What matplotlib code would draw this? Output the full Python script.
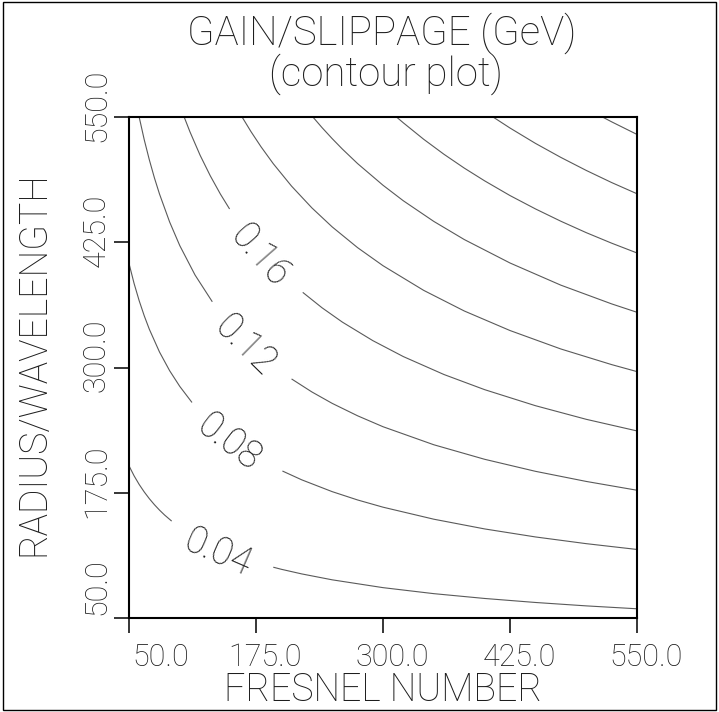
"""Gain/slippage (GeV) contour chart: Fresnel number vs radius/wavelength."""
import matplotlib
matplotlib.use("Agg")
import matplotlib.pyplot as plt
import matplotlib.transforms as mtransforms
from matplotlib import font_manager
from matplotlib.patches import Rectangle

# ---------------------------------------------------------------- data
x_ticks = [50, 175, 300, 425, 550]
y_ticks = [50, 175, 300, 425, 550]
x_tick_labels = ["50.0", "175.0", "300.0", "425.0", "550.0"]
y_tick_labels = ["50.0", "175.0", "300.0", "425.0", "550.0"]

levels = [0.04, 0.08, 0.12, 0.16, 0.20, 0.24, 0.28, 0.32, 0.36]
label_texts = ["0.04", "0.08", "0.12", "0.16"]

# traced contour lines: n_* = Fresnel number, r_* = radius/wavelength
# labelled levels come in two pieces (a / b) either side of the label
n_004a = [50, 55, 60, 65, 70, 75, 80, 85, 92]
r_004a = [201.9, 191.9, 183.3, 175.8, 169.1, 163.1, 157.7, 152.8, 146.7]
n_004b = [192, 200, 220, 250, 300, 350, 400, 450, 500, 550]
r_004b = [100.7, 98.6, 94.0, 88.1, 80.3, 74.3, 69.5, 65.5, 62.1, 59.2]

n_008a = [50, 55, 60, 65, 70, 80, 90, 100, 112]
r_008a = [403.8, 383.9, 366.7, 351.6, 338.2, 315.5, 296.8, 281.1, 265.1]
n_008b = [201, 220, 250, 275, 300, 350, 400, 450, 500, 550]
r_008b = [196.7, 187.9, 176.1, 167.8, 160.6, 148.6, 138.9, 130.9, 124.2, 118.4]

n_012a = [60, 65, 70, 75, 80, 90, 100, 115, 132]
r_012a = [550.0, 527.3, 507.3, 489.3, 473.2, 445.2, 421.6, 392.3, 365.6]
n_012b = [210, 230, 250, 275, 300, 350, 400, 450, 500, 550]
r_012b = [288.6, 275.6, 264.2, 251.8, 240.9, 222.9, 208.4, 196.4, 186.3, 177.5]

n_016a = [104.3, 110, 120, 130, 140, 149]
r_016a = [550.0, 535.2, 511.8, 491.3, 473.0, 458.2]
n_016b = [221, 240, 260, 290, 320, 360, 400, 450, 500, 550]
r_016b = [375.0, 359.6, 345.3, 326.8, 310.9, 293.0, 277.9, 261.9, 248.3, 236.7]

n_020 = [161.3, 170, 180, 192, 210, 230, 250, 275, 300, 340, 380, 425, 475, 525, 550]
r_020 = [550.0, 535.5, 520.2, 503.4, 481.0, 459.3, 440.3, 419.6, 401.6, 377.0,
         356.4, 336.9, 318.5, 302.9, 295.9]

n_024 = [231.0, 240, 250, 260, 275, 300, 320, 350, 380, 425, 475, 525, 550]
r_024 = [550.0, 539.4, 528.4, 518.0, 503.5, 481.9, 466.4, 445.8, 427.7, 404.3,
         382.2, 363.5, 355.1]

n_028 = [313.3, 320, 340, 360, 380, 400, 425, 450, 475, 500, 525, 550]
r_028 = [550.0, 544.2, 527.8, 512.8, 499.0, 486.3, 471.6, 458.3, 446.0, 434.6,
         424.1, 414.3]

n_032 = [408.3, 425, 450, 475, 500, 525, 550]
r_032 = [550.0, 539.0, 523.7, 509.7, 496.7, 484.6, 473.4]

n_036 = [516.0, 525, 550]
r_036 = [550.0, 545.2, 532.6]

contour_pieces = [
    (n_004a, r_004a), (n_004b, r_004b),
    (n_008a, r_008a), (n_008b, r_008b),
    (n_012a, r_012a), (n_012b, r_012b),
    (n_016a, r_016a), (n_016b, r_016b),
    (n_020, r_020), (n_024, r_024), (n_028, r_028),
    (n_032, r_032), (n_036, r_036),
]

# ---------------------------------------------------------------- layout
W, H, DPI = 719, 712, 100
AX_L, AX_R, AX_T, AX_B = 129, 637, 117, 618          # axes box, pixels

# inline label anchors (data coords) and angles along the line
label_n = [139.6, 150.4, 167.0, 182.0]
label_r = [118.4, 228.0, 324.2, 413.8]
label_rot = [-23.5, -37.5, -44.5, -48.7]


def fx(px):
    return px / W


def fy(py):
    return 1 - py / H


def pick_family():
    # want a hairline face, the original uses a 1px stroke font
    faces = font_manager.fontManager.ttflist
    for fam in ("Roboto", "Lato", "Open Sans", "Inter"):
        if any(f.name == fam and isinstance(f.weight, int) and f.weight <= 300
               for f in faces):
            return fam
    return "DejaVu Sans"


TXT = dict(family=pick_family(), fontweight=100, color="#1e1e1e")
LINE = "#5a5a5a"

fig = plt.figure(figsize=(W / DPI, H / DPI), dpi=DPI)
ax = fig.add_axes([fx(AX_L), fy(AX_B), (AX_R - AX_L) / W, (AX_B - AX_T) / H])

for n, r in contour_pieces:
    ax.plot(n, r, color=LINE, lw=0.8, solid_capstyle="butt")

for s, n, r, a in zip(label_texts, label_n, label_r, label_rot):
    ax.text(n, r, s, rotation=a, rotation_mode="anchor", ha="center",
            va="center_baseline", fontsize=27, **TXT)

ax.set_xlim(50, 550)
ax.set_ylim(50, 550)
ax.set_xticks(x_ticks)
ax.set_yticks(y_ticks)
ax.tick_params(direction="out", length=10.5, width=1.1, color="black",
               labelbottom=False, labelleft=False)
for sp in ax.spines.values():
    sp.set_linewidth(1.5)
    sp.set_color("black")

# tick labels, nudged the way the original plotter placed them
for v, s in zip(x_ticks, x_tick_labels):
    shift = 32 if len(s) == 4 else 9
    off = mtransforms.ScaledTranslation(shift / DPI, -48 / DPI, fig.dpi_scale_trans)
    ax.text(v, 0, s, transform=ax.get_xaxis_transform() + off,
            ha="center", va="baseline", fontsize=22, **TXT)
for v, s in zip(y_ticks, y_tick_labels):
    shift = 31 if len(s) == 4 else 12
    off = mtransforms.ScaledTranslation(-24 / DPI, shift / DPI, fig.dpi_scale_trans)
    ax.text(0, v, s, transform=ax.get_yaxis_transform() + off, rotation=90,
            rotation_mode="anchor", ha="center", va="baseline", fontsize=22, **TXT)

fig.text(fx(382), fy(45), "GAIN/SLIPPAGE (GeV)", ha="center", va="baseline",
         fontsize=29, **TXT)
fig.text(fx(386), fy(86), "(contour plot)", ha="center", va="baseline",
         fontsize=29, **TXT)
fig.text(fx(383), fy(701), "FRESNEL NUMBER", ha="center", va="baseline",
         fontsize=27, **TXT)
fig.text(fx(44), fy(364), "RADIUS/WAVELENGTH", rotation=90, rotation_mode="anchor",
         ha="center", va="baseline", fontsize=27, **TXT)

# outer page frame
fig.add_artist(Rectangle((fx(3), fy(710)), (716 - 3) / W, (710 - 2) / H,
                         transform=fig.transFigure, fill=False, lw=1.0,
                         edgecolor="black"))

fig.savefig("out.png", dpi=DPI)
